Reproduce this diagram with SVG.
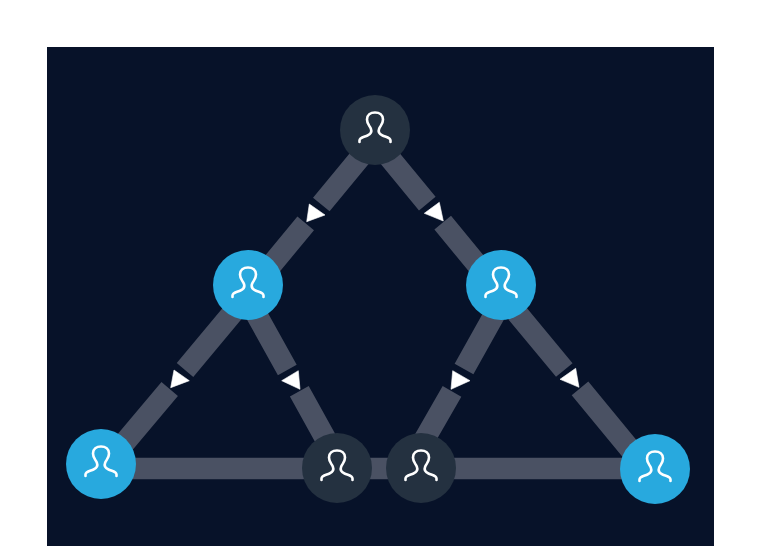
<svg xmlns="http://www.w3.org/2000/svg" width="758" height="546" viewBox="0 0 758 546">
<style>
.seg{stroke:#4a5163;stroke-width:21.5;fill:none}
.arr{fill:#fff;stroke:#fff;stroke-width:.6;stroke-linejoin:round}
.dark{fill:#243140}
.blue{fill:#28a9de}
.ic{fill:none;stroke:#fff;stroke-width:2.6;stroke-linecap:round;stroke-linejoin:round}
</style>
<defs>
<path id="person" class="ic" d="M-15.500 12V10.500C-15.500 7.500-11 7-7.500 5.500C-4 4-3 1.500-4.200-1.500C-5.500-4.500-8-6-8-10.500C-8-15-4.500-17.500 0-17.500C4.500-17.500 8-15 8-10.500C8-6 5.500-4.500 4.200-1.500C3 1.500 4 4 7.500 5.500C11 7 15.500 7.500 15.500 10.500V12"/>
</defs>
<rect x="47" y="47" width="667" height="499" fill="#071229"/>
<g id="connectors">
<path class="seg" d="M382.800 130L321.300 204.500M305.700 223.300L254.800 285"/>
<path class="seg" d="M366.700 130L427.300 203.700M442.700 222.700L494 285"/>
<path class="seg" d="M255.900 285L185 370M169.700 389L106.600 464"/>
<path class="seg" d="M240 285L287.300 370M299.300 391.300L341.800 468"/>
<path class="seg" d="M511 285L464 369M452 391.300L408 468"/>
<path class="seg" d="M493.800 285L564.300 370M580 388.300L646.400 469"/>
<path class="seg" d="M101 468.500H655"/>
<polygon class="arr" points="309.300,204 325,215 306.700,221.700"/>
<polygon class="arr" points="439.300,202.300 443.300,221 424.300,213.300"/>
<polygon class="arr" points="174,370 189.300,380.700 170.700,387.700"/>
<polygon class="arr" points="298.300,370.700 300,389.300 281.700,380.700"/>
<polygon class="arr" points="452.700,370.700 470,380.700 451,389.300"/>
<polygon class="arr" points="575.700,368.300 579,387.300 560,379.300"/>
</g>
<g id="node-top" transform="translate(375 130)"><circle class="dark" r="35"/><use href="#person"/></g>
<g id="node-left" transform="translate(248 285)"><circle class="blue" r="35"/><use href="#person"/></g>
<g id="node-right" transform="translate(501 285)"><circle class="blue" r="35"/><use href="#person"/></g>
<g id="node-bottom-left" transform="translate(101 464)"><circle class="blue" r="35"/><use href="#person"/></g>
<g id="node-bottom-mid-left" transform="translate(337 468)"><circle class="dark" r="35"/><use href="#person"/></g>
<g id="node-bottom-mid-right" transform="translate(421 468)"><circle class="dark" r="35"/><use href="#person"/></g>
<g id="node-bottom-right" transform="translate(655 469)"><circle class="blue" r="35"/><use href="#person"/></g>
</svg>
